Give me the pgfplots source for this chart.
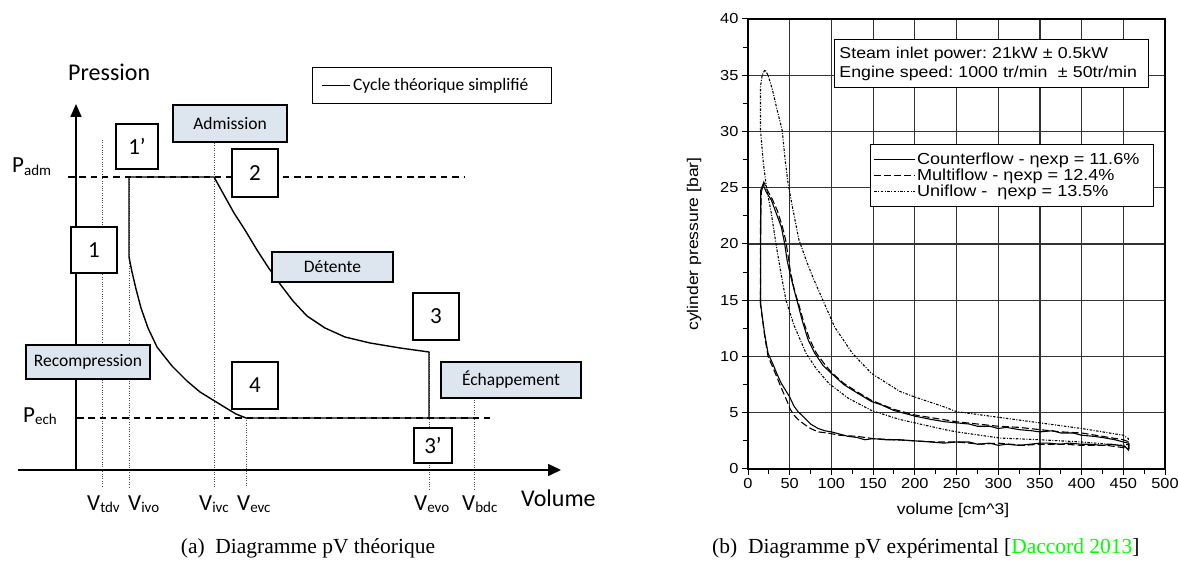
\documentclass[border=0pt]{standalone}
\usepackage{fontspec}
\setmainfont{Carlito}
\newfontfamily\arialf[FakeStretch=1.13]{Liberation Sans}
\newfontfamily\timesf{Liberation Serif}
\usepackage{pgfplots}
\pgfplotsset{compat=1.18}
\usetikzlibrary{arrows.meta}
\definecolor{boxfill}{RGB}{221,229,238}
\newcommand{\lab}[2]{{\fontsize{23}{26}\selectfont #1}\raisebox{-2.5pt}{\fontsize{15}{17}\selectfont #2}}
\frenchspacing
\begin{document}
\begin{tikzpicture}
\useasboundingbox (0,0) rectangle (1178pt,569pt);
% ---------------- left panel : theoretical cycle ----------------
\begin{axis}[at={(0pt,0pt)}, anchor=south west, width=1178pt, height=569pt, scale only axis,
  xmin=0, xmax=1178, ymin=0, ymax=569, y dir=reverse, hide axis, clip=false,
  legend style={at={(axis cs:312,67)}, anchor=north west, draw=black, line width=1.3pt,
    inner xsep=9pt, inner ysep=9pt, font=\fontsize{17.5}{20}\selectfont, fill=white},
  legend cell align=left,
  legend image code/.code={\draw[#1] (0pt,0pt) -- (28pt,0pt);}]
% dotted verticals
\draw[gray!60!black, line width=0.9pt, dash pattern=on 1pt off 1.4pt] (axis cs:102,140) -- (axis cs:102,487);
\draw[gray!60!black, line width=0.9pt, dash pattern=on 1pt off 1.4pt] (axis cs:129,177) -- (axis cs:129,487);
\draw[gray!60!black, line width=0.9pt, dash pattern=on 1pt off 1.4pt] (axis cs:214,143) -- (axis cs:214,487);
\draw[gray!60!black, line width=0.9pt, dash pattern=on 1pt off 1.4pt] (axis cs:246,418) -- (axis cs:246,487);
\draw[gray!60!black, line width=0.9pt, dash pattern=on 1pt off 1.4pt] (axis cs:429,352) -- (axis cs:429,489);
\draw[gray!60!black, line width=0.9pt, dash pattern=on 1pt off 1.4pt] (axis cs:474,400) -- (axis cs:474,489);
% dashed pressure levels
\draw[black, line width=1.2pt, dash pattern=on 6.5pt off 4.8pt] (axis cs:68,177) -- (axis cs:465,177);
\draw[black, line width=1.2pt, dash pattern=on 6.5pt off 4.8pt] (axis cs:77,418) -- (axis cs:495,418);
% axes arrows
\draw[black, line width=1.6pt, -{Triangle[length=13pt,width=11pt]}] (axis cs:76,470) -- (axis cs:76,104);
\draw[black, line width=1.6pt, -{Triangle[length=13pt,width=12pt]}] (axis cs:18,470) -- (axis cs:561,470);
% cycle
\addplot[black, line width=1.4pt, line join=round] coordinates {
 (474,418) (246,418) (236,414) (226,408) (213,400) (200,392) (187,381) (172,366) (157,347)
 (148,328) (141,308) (136,289) (132,272) (129,257) (129,177) (214,177)
 (224,195) (234,213) (245,230) (257,250) (268,267) (280,284) (293,301) (307,316)
 (325,328) (345,337) (370,343) (400,348) (429,352) (429,418)};
\addlegendentry{Cycle théorique simplifié\kern12pt}
% boxes
\node[draw=black, line width=1.3pt, fill=white, minimum width=46pt, minimum height=46pt, inner sep=0pt, font=\fontsize{23}{25}\selectfont] at (axis cs:94,250) {1};
\node[draw=black, line width=1.3pt, fill=white, minimum width=42pt, minimum height=45pt, inner sep=0pt, font=\fontsize{23}{25}\selectfont] at (axis cs:137,146.5) {1’};
\node[draw=black, line width=1.3pt, fill=boxfill, minimum width=114pt, minimum height=37pt, inner sep=0pt, font=\fontsize{17.5}{20}\selectfont] at (axis cs:230,123.5) {Admission};
\node[draw=black, line width=1.3pt, fill=white, minimum width=46pt, minimum height=48pt, inner sep=0pt, font=\fontsize{23}{25}\selectfont] at (axis cs:255,173) {2};
\node[draw=black, line width=1.3pt, fill=boxfill, minimum width=121pt, minimum height=30pt, inner sep=0pt, font=\fontsize{17.5}{20}\selectfont] at (axis cs:332.5,267) {Détente};
\node[draw=black, line width=1.3pt, fill=white, minimum width=46pt, minimum height=47pt, inner sep=0pt, font=\fontsize{23}{25}\selectfont] at (axis cs:436,316.5) {3};
\node[draw=black, line width=1.3pt, fill=boxfill, minimum width=140pt, minimum height=36pt, inner sep=0pt, font=\fontsize{17.5}{20}\selectfont] at (axis cs:511,380) {Échappement};
\node[draw=black, line width=1.3pt, fill=white, minimum width=38pt, minimum height=35pt, inner sep=0pt, font=\fontsize{23}{25}\selectfont] at (axis cs:433,445.5) {3’};
\node[draw=black, line width=1.3pt, fill=white, minimum width=46pt, minimum height=47pt, inner sep=0pt, font=\fontsize{23}{25}\selectfont] at (axis cs:255,385.5) {4};
\node[draw=black, line width=1.3pt, fill=boxfill, minimum width=124pt, minimum height=34pt, inner sep=0pt, font=\fontsize{17.5}{20}\selectfont] at (axis cs:88,362) {Recompression};
% labels
\node[anchor=base west, inner sep=0pt, font=\fontsize{24}{27}\selectfont] at (axis cs:68,81) {Pression};
\node[anchor=base west, inner sep=0pt, font=\fontsize{24}{27}\selectfont] at (axis cs:521,506) {Volume};
\node[anchor=base west, inner sep=0pt] at (axis cs:12,173) {\lab{P}{adm}};
\node[anchor=base west, inner sep=0pt] at (axis cs:23,422) {\lab{P}{ech}};
\node[anchor=base west, inner sep=0pt] at (axis cs:87,510) {\lab{V}{tdv}};
\node[anchor=base west, inner sep=0pt] at (axis cs:128,510) {\lab{V}{ivo}};
\node[anchor=base west, inner sep=0pt] at (axis cs:199,510) {\lab{V}{ivc}};
\node[anchor=base west, inner sep=0pt] at (axis cs:237,510) {\lab{V}{evc}};
\node[anchor=base west, inner sep=0pt] at (axis cs:414,510) {\lab{V}{evo}};
\node[anchor=base west, inner sep=0pt] at (axis cs:462,510) {\lab{V}{bdc}};
% captions
\node[anchor=base, inner sep=0pt, font=\timesf\fontsize{21.5}{24}\selectfont] at (axis cs:308,553) {(a)\enspace Diagramme pV théorique};
\node[anchor=base west, inner sep=0pt, font=\timesf\fontsize{21.5}{24}\selectfont] at (axis cs:712,553) {(b)\enspace Diagramme pV expérimental [\textcolor{green}{Daccord 2013}]};
\end{axis}
% ---------------- right panel : experimental pV ----------------
\begin{axis}[at={(748pt,100pt)}, anchor=south west, width=417pt, height=450pt, scale only axis,
  xmin=0, xmax=500, ymin=0, ymax=40,
  xtick={0,50,...,500}, ytick={0,5,...,40}, minor x tick num=1, minor y tick num=1,
  xtick pos=left, ytick pos=left, tick align=outside,
  major tick length=6pt, minor tick length=5pt,
  every tick/.style={black, line width=1pt},
  grid=major, major grid style={black!80, line width=1.2pt},
  axis line style={black, line width=1.3pt},
  /pgf/number format/assume math mode=true,
  ticklabel style={font=\arialf\fontsize{14.5}{16}\selectfont},
  xlabel={volume [cm\textasciicircum 3]},
  ylabel={cylinder pressure [bar]},
  label style={font=\arialf\fontsize{15.5}{17}\selectfont},
  xlabel style={at={(axis description cs:0.4916,0)}, anchor=north, yshift=-31pt},
  ylabel style={at={(axis description cs:-0.1295,0.5)}, anchor=center, rotate=0},
  legend style={at={(0.2926,0.7222)}, anchor=north west, draw=black, line width=1pt, fill=white,
    font=\arialf\fontsize{16}{18}\selectfont, inner xsep=3pt, inner ysep=7pt,
    nodes={inner sep=1.5pt}, row sep=0pt},
  legend cell align=left,
  legend image code/.code={\draw[#1] (0pt,0pt) -- (41pt,0pt);},
  clip=false]
\addplot[black, line width=1.1pt] coordinates {
(15,14.8)(15.2,20)(15.3,24.8)(18,25.3)(22,24.6)(28,23.9)(34,22.7)(40,21.5)(44,20.0)(47,18.5)(50,17.5)(55,16.0)(59,14.9)(65,13.2)(72,11.5)(80,10.3)(90,9.2)(100,8.5)(115,7.5)(130,6.8)(148,6.0)(160,5.7)(175,5.2)(190,4.9)(200,4.7)(220,4.4)(236,4.2)(250,4.1)(265,4.0)(275,3.8)(290,3.8)(300,3.6)(310,3.7)(325,3.5)(340,3.4)(350,3.3)(365,3.4)(375,3.2)(390,3.2)(400,3.0)(415,2.9)(425,2.8)(440,2.6)(450,2.4)(456,2.3)(456,1.7)(452,2.0)(445,2.1)(435,2.2)(425,2.1)(410,2.2)(400,2.2)(385,2.3)(375,2.2)(360,2.3)(350,2.3)(338,2.2)(325,2.1)(310,2.2)(300,2.1)(290,2.3)(275,2.2)(265,2.4)(250,2.4)(235,2.3)(219,2.4)(200,2.5)(182,2.6)(165,2.6)(150,2.7)(140,2.6)(131,2.8)(120,2.9)(110,3.1)(100,3.3)(92,3.4)(84,3.6)(75,4.0)(67,4.6)(60,5.1)(55,5.6)(50,6.4)(45,7.0)(40,7.6)(35,8.4)(30,9.3)(24,10.3)(20,12.0)(17,13.6)(15,14.8)};
\addlegendentry{Counterflow - ηexp = 11.6\%\kern10pt}
\addplot[black, line width=1.1pt, dash pattern=on 7pt off 3pt] coordinates {
(15,14.6)(15,22)(16,24.6)(19,25.5)(23,24.8)(29,24.0)(35,23.0)(41,21.6)(45,20.4)(48,19.0)(51,17.5)(56,15.8)(61,14.6)(67,13.0)(74,11.5)(82,10.3)(92,9.3)(100,8.6)(115,7.6)(130,6.9)(148,6.1)(175,5.3)(200,4.8)(225,4.5)(250,4.2)(275,4.0)(300,3.8)(325,3.7)(350,3.5)(375,3.3)(400,3.2)(425,2.9)(450,2.6)(457,2.4)(457,1.8)(450,1.9)(430,2.1)(400,2.1)(380,2.2)(350,2.2)(330,2.1)(300,2.3)(280,2.2)(250,2.4)(225,2.4)(200,2.5)(175,2.6)(150,2.7)(131,2.9)(110,3.0)(95,3.2)(84,3.3)(75,3.6)(67,4.0)(60,4.4)(55,4.8)(50,5.4)(47,6.0)(40,7.2)(35,8.1)(30,9.0)(24,10.0)(20,11.8)(17,13.5)(15,14.6)};
\addlegendentry{Multiflow - ηexp = 12.4\%}
\addplot[black, line width=1.1pt, dash pattern=on 2.5pt off 1.5pt on 1pt off 1.5pt] coordinates {
(15,30.1)(15,34.0)(17,35.0)(20.4,35.5)(24,35.0)(29,33.8)(34,32.2)(41,30.1)(44.5,27.5)(48,25.4)(54,23.0)(61,20.4)(70,18.5)(78,17.0)(88,15.3)(104,12.6)(125,10.3)(148,8.5)(182,6.9)(200,6.4)(236,5.5)(250,5.1)(300,4.6)(350,4.1)(400,3.6)(450,3.0)(456,2.7)(456,2.2)(450,2.1)(400,2.4)(350,2.6)(302,2.75)(250,3.3)(236,3.5)(200,4.1)(182,4.4)(148,5.2)(120,6.3)(97,7.6)(82,8.9)(69.5,10.3)(55,12.8)(45.5,15.0)(40,17.2)(34,19.8)(28,22.7)(22,25.1)(18.4,27.2)(15,30.1)};
\addlegendentry{Uniflow - \ ηexp = 13.5\%}
\node[draw=black, line width=1pt, fill=white, anchor=north west, inner xsep=5pt, inner ysep=5pt,
  text width=304pt, minimum height=48pt, align=left, font=\arialf\fontsize{15.7}{19}\selectfont]
  at (axis cs:103.1,38.22) {Steam inlet power: 21kW ± 0.5kW\\Engine speed: 1000 tr/min\ \ ± 50tr/min};
\end{axis}
\end{tikzpicture}
\end{document}
